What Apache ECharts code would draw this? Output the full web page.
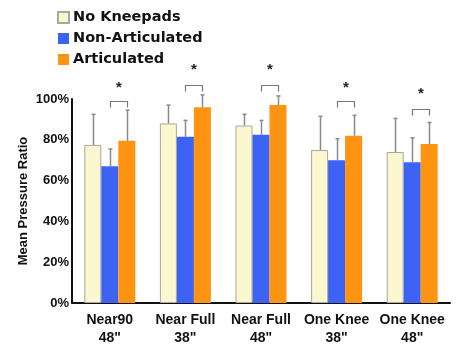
<!DOCTYPE html>
<html>
<head>
<meta charset="utf-8">
<script src="https://cdn.jsdelivr.net/npm/echarts@6/dist/echarts.min.js"></script>
<style>
  html, body { margin: 0; padding: 0; background: #fff; }
  #chart { width: 458px; height: 347px; }
</style>
</head>
<body>
<div id="chart"></div>
<script>
// Kneepad pressure study: mean pressure ratio by posture and height
const categories = ['Near90\n48"', 'Near Full\n38"', 'Near Full\n48"', 'One Knee\n38"', 'One Knee\n48"'];
const seriesNames = ['No Kneepads', 'Non-Articulated', 'Articulated'];
const noKneepads = [77.5, 88, 87, 75, 74];
const nonArticulated = [67, 81.5, 82.5, 70, 69];
const articulated = [79.5, 96, 97, 82, 78];
// upper end of each error bar
const noKneepadsErr = [92.5, 97, 92.5, 91.5, 90.5];
const nonArticulatedErr = [75.5, 89.5, 89.5, 80.5, 81];
const articulatedErr = [94.5, 102, 101.5, 92, 88.5];
// significance brackets: [category, bracket level, star level]
const significance = [
  [0, 99, 105.5],
  [1, 107, 114.5],
  [2, 107, 114.5],
  [3, 99, 105.5],
  [4, 95, 102.5]
];
const yTicks = [0, 20, 40, 60, 80, 100];

const colors = ['#FBF8CF', '#3C63F4', '#FF9412'];
const BAR_W = 17;

const chart = echarts.init(document.getElementById('chart'));

function errSeries(values, pos) {
  return {
    type: 'custom',
    silent: true,
    clip: false,
    z: 3,
    data: values.map((v, i) => [i, v, [noKneepads, nonArticulated, articulated][pos][i]]),
    renderItem: function (params, api) {
      const top = api.coord([api.value(0), api.value(1)]);
      const base = api.coord([api.value(0), api.value(2)]);
      const x = Math.round(top[0] + (pos - 1) * BAR_W) + 0.5;
      return {
        type: 'group',
        children: [
          { type: 'line', shape: { x1: x, y1: base[1], x2: x, y2: top[1] }, style: { stroke: '#8a8a8a', lineWidth: 1.5 } },
          { type: 'line', shape: { x1: x - 2, y1: top[1], x2: x + 2, y2: top[1] }, style: { stroke: '#8a8a8a', lineWidth: 1.5 } }
        ]
      };
    }
  };
}

const option = {
  animation: false,
  legend: {
    orient: 'vertical',
    left: 57,
    top: 9,
    padding: 0,
    itemWidth: 11,
    itemHeight: 11,
    itemGap: 4,
    icon: 'rect',
    data: seriesNames,
    textStyle: { fontFamily: 'DejaVu Sans', fontWeight: 'bold', fontSize: 14.5, color: '#111', lineHeight: 17, padding: [0, 0, 0, -1] }
  },
  grid: { left: 72, right: 8, top: 99, bottom: 38 },
  xAxis: {
    type: 'category',
    data: categories,
    axisLine: { lineStyle: { color: '#111', width: 2 } },
    axisTick: { show: false },
    axisLabel: { fontFamily: 'Liberation Sans', fontWeight: 'bold', fontSize: 14, color: '#111', lineHeight: 18, margin: 8, interval: 0 }
  },
  yAxis: {
    type: 'value',
    min: 0,
    max: 100,
    interval: 20,
    name: 'Mean Pressure Ratio',
    nameLocation: 'middle',
    nameGap: 42,
    nameMoveOverlap: false,
    nameTextStyle: { fontFamily: 'Liberation Sans', fontWeight: 'bold', fontSize: 13, color: '#111' },
    axisLine: { show: true, lineStyle: { color: '#111', width: 2 } },
    axisTick: { show: false },
    splitLine: { show: false },
    axisLabel: {
      fontFamily: 'Liberation Sans', fontWeight: 'bold', fontSize: 13, color: '#111', margin: 3,
      formatter: v => (yTicks.indexOf(v) >= 0 ? v + '%' : '')
    }
  },
  series: [
    { name: seriesNames[0], type: 'bar', data: noKneepads, barWidth: BAR_W, barGap: '0%', itemStyle: { color: colors[0], borderColor: '#a8a8a0', borderWidth: 1 } },
    { name: seriesNames[1], type: 'bar', data: nonArticulated, barWidth: BAR_W, barGap: '0%', itemStyle: { color: colors[1] } },
    { name: seriesNames[2], type: 'bar', data: articulated, barWidth: BAR_W, barGap: '0%', itemStyle: { color: colors[2] } },
    errSeries(noKneepadsErr, 0),
    errSeries(nonArticulatedErr, 1),
    errSeries(articulatedErr, 2),
    {
      type: 'custom',
      silent: true,
      clip: false,
      z: 4,
      data: significance,
      renderItem: function (params, api) {
        const p = api.coord([api.value(0), api.value(1)]);
        const s = api.coord([api.value(0), api.value(2)]);
        const x1 = Math.round(p[0]) + 0.5;
        const x2 = Math.round(p[0] + BAR_W) + 0.5;
        const y = Math.round(p[1]) + 0.5;
        return {
          type: 'group',
          children: [
            { type: 'polyline', shape: { points: [[x1, y + 6], [x1, y], [x2, y], [x2, y + 6]] }, style: { stroke: '#777', lineWidth: 1.2, fill: null } },
            { type: 'text', style: { text: '*', x: (x1 + x2) / 2, y: s[1], align: 'center', verticalAlign: 'middle', font: 'bold 15px "Liberation Sans"', fill: '#222' } }
          ]
        };
      }
    }
  ]
};

chart.setOption(option);
</script>
</body>
</html>
